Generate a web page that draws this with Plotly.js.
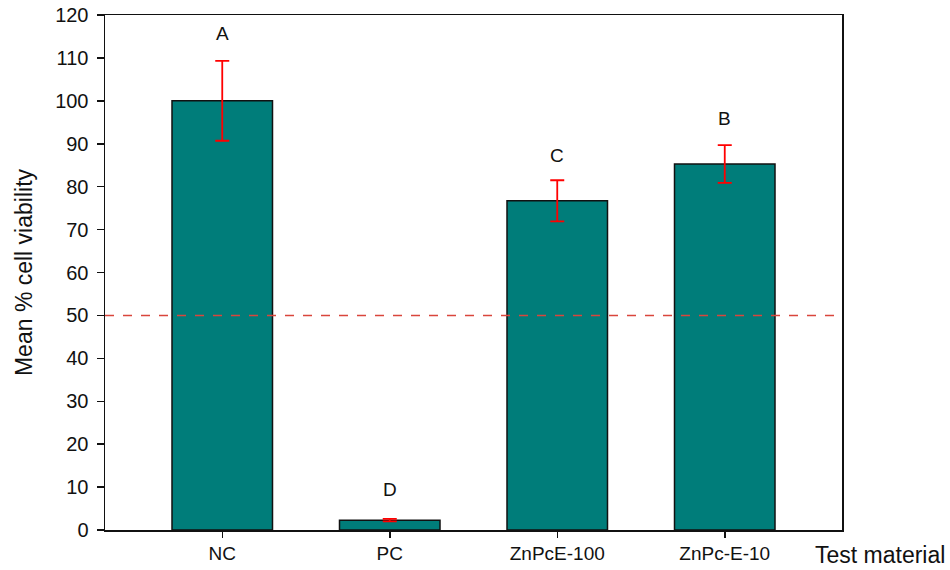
<!DOCTYPE html>
<html><head><meta charset="utf-8">
<script src="https://cdn.plot.ly/plotly-3.0.1.min.js"></script>
<style>body{margin:0;background:#fff}</style></head>
<body><div id="chart" style="width:950px;height:570px"></div>
<script>
const categories = ["NC", "PC", "ZnPcE-100", "ZnPc-E-10"];
const means = [100, 2.3, 76.7, 85.3];
const errors = [9.3, 0.3, 4.8, 4.4];
const letters = ["A", "D", "C", "B"];
const letterY = [115.6, 9.4, 87.2, 96.0];
const threshold = 50;

const trace = {
  type: "bar",
  x: categories,
  y: means,
  width: 0.6,
  marker: {color: "#007D7A", line: {color: "#111", width: 1.5}},
  error_y: {type: "data", array: errors, visible: true, color: "#ff0000", thickness: 1.8, width: 7}
};

const annotations = categories.map((c, i) => ({
  x: c, y: letterY[i], xref: "x", yref: "y", text: letters[i], showarrow: false,
  font: {family: "Liberation Sans, Arial", size: 19, color: "#111"}
}));
annotations.push({
  xref: "paper", yref: "paper", x: 1.1425, y: -0.02, xanchor: "right", yanchor: "top",
  text: "Test material", showarrow: false,
  font: {family: "Liberation Sans, Arial", size: 23, color: "#111"}
});

const layout = {
  width: 950, height: 570,
  margin: {l: 105, r: 108, t: 15, b: 40},
  paper_bgcolor: "#fff", plot_bgcolor: "#fff",
  showlegend: false,
  font: {family: "Liberation Sans, Arial", size: 19, color: "#111"},
  xaxis: {
    range: [-0.7, 3.7], showgrid: false, zeroline: false,
    showline: true, linecolor: "#111", linewidth: 1.5, mirror: true,
    ticks: "outside", ticklen: 6, tickcolor: "#111", tickwidth: 1.5,
    tickfont: {size: 19}
  },
  yaxis: {
    range: [0, 120], dtick: 10, showgrid: false, zeroline: false,
    showline: true, linecolor: "#111", linewidth: 1.5, mirror: true,
    ticks: "outside", ticklen: 7, tickcolor: "#111", tickwidth: 1.5,
    ticklabelstandoff: 4,
    tickfont: {size: 20},
    title: {text: "Mean % cell viability", font: {size: 23}, standoff: 16}
  },
  shapes: [{
    type: "line", xref: "paper", yref: "y", x0: 0, x1: 1, y0: threshold, y1: threshold,
    line: {color: "#d9463c", width: 1.5, dash: "dash"}
  }],
  annotations: annotations
};

Plotly.newPlot("chart", [trace], layout, {displayModeBar: false, staticPlot: true});
</script></body></html>
